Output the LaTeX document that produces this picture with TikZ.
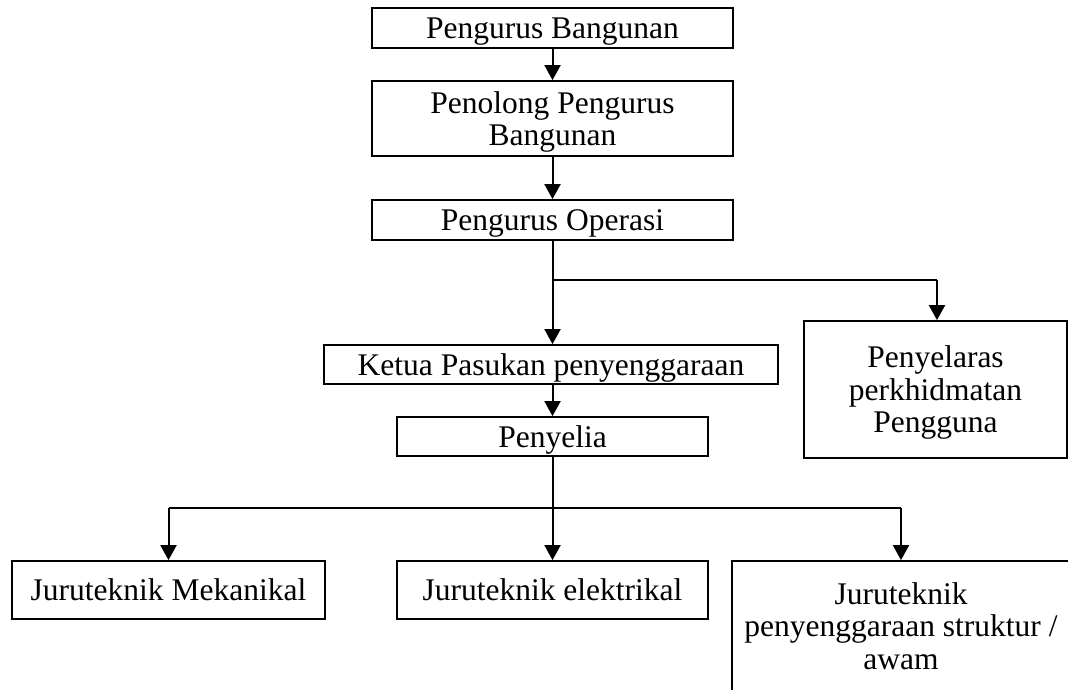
\documentclass[tikz,border=0pt]{standalone}
\usepackage{fontspec}
\setmainfont{Liberation Serif}
\usetikzlibrary{arrows.meta}
\tikzset{
  box/.style={draw, line width=1.8pt, inner sep=0pt, align=center, text depth=0pt,
    font=\fontsize{31.5}{32.5}\selectfont},
  arr/.style={line width=2pt, -{Triangle[width=16pt,length=15pt]}},
  link/.style={line width=1.4pt}
}
\begin{document}
\begin{tikzpicture}[x=1pt,y=-1pt]
\useasboundingbox (0,0) rectangle (1068,689);
\clip (0,0) rectangle (1068,689);
\fill[white] (0,0) rectangle (1068,689);

\node[box, minimum width=361pt, minimum height=40pt] (b1) at (552.5,28) {Pengurus Bangunan};
\node[box, minimum width=361pt, minimum height=75pt] (b2) at (552.5,118.5) {Penolong Pengurus\\Bangunan};
\node[box, minimum width=361pt, minimum height=40pt] (b3) at (552.5,220) {Pengurus Operasi};
\node[box, minimum width=454pt, minimum height=39pt] (b4) at (551,364.5) {Ketua Pasukan penyenggaraan};
\node[box, minimum width=263pt, minimum height=137pt] (b5) at (935.5,389.5) {Penyelaras\\perkhidmatan\\Pengguna};
\node[box, minimum width=311pt, minimum height=39pt] (b6) at (552.5,436.5) {Penyelia};
\node[box, minimum width=313pt, minimum height=58pt] (b7) at (168.5,590) {Juruteknik Mekanikal};
\node[box, minimum width=311pt, minimum height=58pt] (b8) at (552.5,590) {Juruteknik elektrikal};
\node[box, minimum width=338pt, minimum height=130pt] (b9) at (901,626) {Juruteknik\\penyenggaraan struktur /\\awam};

\coordinate (j1) at (552.5,280);
\coordinate (j2) at (552.5,508);

\draw[arr] (b1.south) -- (b2.north);
\draw[arr] (b2.south) -- (b3.north);
\draw[arr] (b3.south) -- (b4.north -| b3.south);
\draw[link] (j1) -- (937,280) coordinate (k1);
\draw[arr] (k1) -- (k1 |- b5.north);
\draw[arr] (b4.south -| b6.north) -- (b6.north);
\draw[arr] (b6.south) -- (b8.north);
\draw[link] (b7.north |- j2) -- (b9.north |- j2);
\draw[arr] (b7.north |- j2) -- (b7.north);
\draw[arr] (b9.north |- j2) -- (b9.north);
\end{tikzpicture}
\end{document}
